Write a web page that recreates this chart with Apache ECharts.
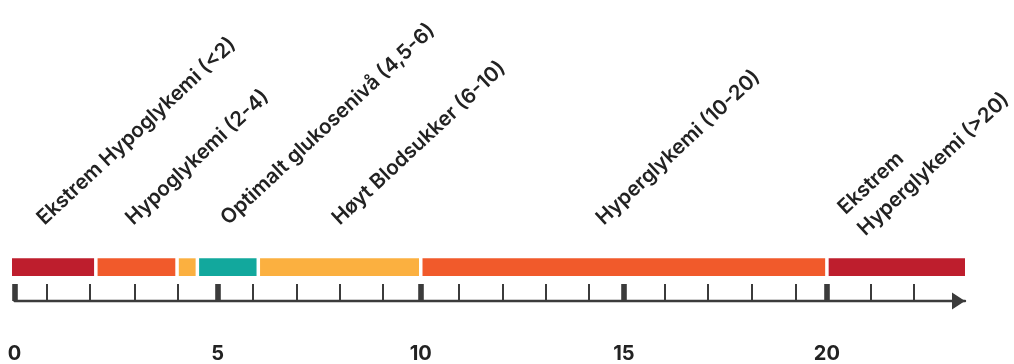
<!DOCTYPE html>
<html><head><meta charset="utf-8">
<script src="https://cdn.jsdelivr.net/npm/echarts@6/dist/echarts.min.js"></script>
<style>html,body{margin:0;padding:0;background:#fff}#c{width:1014px;height:364px}</style>
</head><body><div id="c"></div>
<script>
// ---- data ----
const segStart = [0, 2, 4, 4.5, 6, 10, 20];
const segEnd   = [2, 4, 4.5, 6, 10, 20, 23.4];
const segColors = ['#be1e2d', '#f15a2b', '#fbb040', '#12a89d', '#fbb040', '#f15a2b', '#be1e2d'];
const labelTexts = ['Ekstrem Hypoglykemi (<2)', 'Hypoglykemi (2-4)', 'Optimalt glukosenivå (4,5-6)', 'Høyt Blodsukker (6-10)', 'Hyperglykemi (10-20)', 'Ekstrem\nHyperglykemi (>20)'];
const labelAt = [0.63, 2.82, 5.16, 7.90, 14.40, 20.60];
const majorTicks = [0, 5, 10, 15, 20];
const minorTicks = [0.80, 1.86, 2.96, 4.02, 5.87, 6.95, 8.01, 9.07, 10.94, 12.02, 13.08, 14.14, 16.01, 17.07, 18.15, 19.24, 21.08, 22.14];
const axisMin = 0, axisMax = 23.4;

// ---- chart ----
const chart = echarts.init(document.getElementById('c'), null, {renderer: 'canvas'});
const FONT = 'Inter, "Noto Sans", sans-serif';
const INK = '#3b3b3b';
const segData = segStart.map((s, i) => [s, segEnd[i]]);
const labelData = labelAt.map(v => [v]);

chart.setOption({
  animation: false,
  backgroundColor: '#fff',
  grid: {left: 14.6, right: 49, top: 258.3, bottom: 62.7, containLabel: false},
  xAxis: [{
    type: 'value', min: axisMin, max: axisMax, position: 'bottom',
    splitLine: {show: false},
    axisLine: {show: true, lineStyle: {color: INK, width: 2.4}, symbol: ['none', 'triangle'], symbolSize: [17, 13], symbolOffset: [0, -6.5]},
    axisTick: {show: true, inside: true, length: 17, customValues: majorTicks, lineStyle: {color: INK, width: 5.6}},
    axisLabel: {show: true, customValues: majorTicks, margin: 43, fontFamily: FONT, fontSize: 20, fontWeight: 700, color: '#222'}
  }, {
    type: 'value', min: axisMin, max: axisMax, position: 'bottom',
    splitLine: {show: false},
    axisLine: {show: false},
    axisTick: {show: true, inside: true, length: 17, customValues: minorTicks, lineStyle: {color: INK, width: 2}},
    axisLabel: {show: false}
  }],
  yAxis: {type: 'value', min: 0, max: 1, show: false},
  series: [{
    type: 'custom', xAxisIndex: 0, yAxisIndex: 0,
    data: segData,
    encode: {x: [0, 1]},
    renderItem(params, api) {
      const s = api.value(0), e = api.value(1);
      const p0 = api.coord([s, 1]), p1 = api.coord([e, 1]);
      const gap = 1.75;
      const x0 = s === axisMin ? p0[0] - 2.6 : p0[0] + gap;
      const x1 = e === axisMax ? p1[0] : p1[0] - gap;
      return {type: 'rect', shape: {x: x0, y: p0[1], width: x1 - x0, height: 17.7}, style: {fill: segColors[params.dataIndex]}};
    }
  }, {
    type: 'custom', xAxisIndex: 0, yAxisIndex: 0,
    data: labelData,
    encode: {x: 0},
    clip: false,
    renderItem(params, api) {
      const p = api.coord([api.value(0), 1]);
      return {
        type: 'text', x: p[0], y: p[1] - 37, rotation: 43 * Math.PI / 180,
        style: {text: labelTexts[params.dataIndex], fill: '#222', fontFamily: FONT, fontSize: 20.5, fontWeight: 600, lineHeight: 29, align: 'left', verticalAlign: 'middle'}
      };
    }
  }]
});
</script>
</body></html>
